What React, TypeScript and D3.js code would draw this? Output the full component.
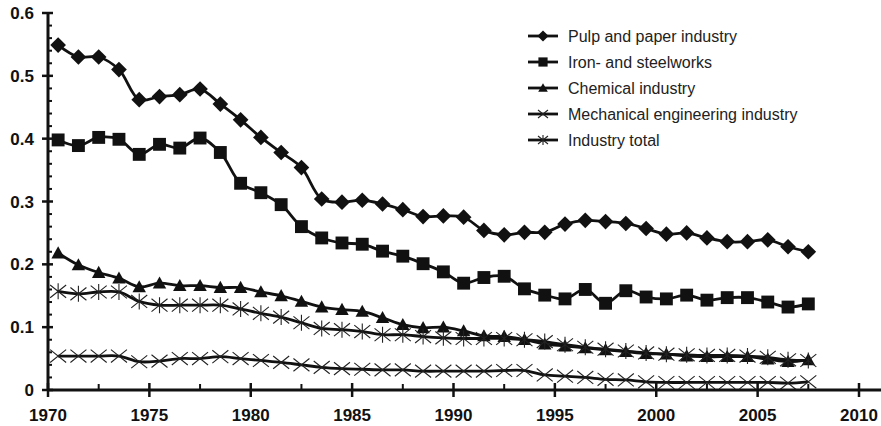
import React from "react";
import * as d3 from "d3";

const years: number[] = d3.range(1970, 2008);

const pulpPaper: number[] = [
  0.549, 0.53, 0.53, 0.51, 0.462, 0.467, 0.47, 0.479, 0.455, 0.43,
  0.402, 0.378, 0.354, 0.304, 0.299, 0.302, 0.296, 0.287, 0.276, 0.277,
  0.275, 0.254, 0.247, 0.251, 0.251, 0.264, 0.27, 0.268, 0.265, 0.257,
  0.248, 0.25, 0.242, 0.236, 0.236, 0.239, 0.228, 0.22,
];
const ironSteel: number[] = [
  0.398, 0.389, 0.402, 0.399, 0.375, 0.391, 0.385, 0.401, 0.378, 0.329,
  0.314, 0.295, 0.26, 0.242, 0.234, 0.232, 0.221, 0.213, 0.201, 0.188,
  0.17, 0.179, 0.181, 0.161, 0.151, 0.145, 0.16, 0.138, 0.158, 0.148,
  0.145, 0.151, 0.143, 0.147, 0.147, 0.14, 0.132, 0.137,
];
const chemical: number[] = [
  0.218, 0.199, 0.187, 0.178, 0.164, 0.17, 0.166, 0.166, 0.163, 0.163,
  0.156, 0.15, 0.141, 0.132, 0.128, 0.125, 0.115, 0.104, 0.099, 0.1,
  0.094, 0.086, 0.085, 0.08, 0.073, 0.07, 0.067, 0.064, 0.061, 0.058,
  0.057, 0.054, 0.053, 0.053, 0.053, 0.049, 0.045, 0.048,
];
const mechanical: number[] = [
  0.054, 0.054, 0.054, 0.054, 0.045, 0.046, 0.05, 0.05, 0.053, 0.05,
  0.047, 0.044, 0.04, 0.036, 0.034, 0.033, 0.032, 0.032, 0.03, 0.03,
  0.03, 0.03, 0.031, 0.031, 0.024, 0.022, 0.02, 0.017, 0.016, 0.013,
  0.012, 0.012, 0.012, 0.012, 0.012, 0.012, 0.011, 0.013,
];
const industryTotal: number[] = [
  0.157, 0.153, 0.156, 0.156, 0.141, 0.135, 0.135, 0.135, 0.135, 0.129,
  0.122, 0.116, 0.107, 0.098, 0.096, 0.093, 0.088, 0.088, 0.085, 0.083,
  0.082, 0.082, 0.082, 0.08, 0.077, 0.072, 0.068, 0.065, 0.062, 0.059,
  0.057, 0.056, 0.055, 0.055, 0.054, 0.052, 0.048, 0.047,
];

const seriesNames: string[] = [
  "Pulp and paper industry",
  "Iron- and steelworks",
  "Chemical industry",
  "Mechanical engineering industry",
  "Industry total",
];
const markerTypes: string[] = ["diamond", "square", "triangle", "x", "asterisk"];
const seriesValues: number[][] = [pulpPaper, ironSteel, chemical, mechanical, industryTotal];

const xTicks: number[] = [1970, 1975, 1980, 1985, 1990, 1995, 2000, 2005, 2010];
const yTicks: number[] = [0, 0.1, 0.2, 0.3, 0.4, 0.5, 0.6];

const W = 881;
const H = 426;
const x = d3.scaleLinear().domain([1970, 2010]).range([48, 859]);
const y = d3.scaleLinear().domain([0, 0.6]).range([390, 13]);
const INK = "#111";

function Marker({ type, cx, cy, s }: { type: string; cx: number; cy: number; s: number }) {
  if (type === "diamond") {
    const r = s * 0.56;
    return <path d={`M${cx},${cy - r}L${cx + r},${cy}L${cx},${cy + r}L${cx - r},${cy}Z`} fill={INK} />;
  }
  if (type === "square") {
    const r = s * 0.46;
    return <rect x={cx - r} y={cy - r} width={2 * r} height={2 * r} fill={INK} />;
  }
  if (type === "triangle") {
    const r = s * 0.48;
    return <path d={`M${cx},${cy - r}L${cx + r},${cy + r * 0.8}L${cx - r},${cy + r * 0.8}Z`} fill={INK} />;
  }
  if (type === "x") {
    const r = s * 0.5;
    return (
      <path
        d={`M${cx - r},${cy - r * 0.8}L${cx + r},${cy + r * 0.8}M${cx - r},${cy + r * 0.8}L${cx + r},${cy - r * 0.8}`}
        stroke="#222"
        strokeWidth={1.1}
      />
    );
  }
  const r = s * 0.5;
  return (
    <path
      d={`M${cx - r},${cy - r * 0.8}L${cx + r},${cy + r * 0.8}M${cx - r},${cy + r * 0.8}L${cx + r},${cy - r * 0.8}M${cx},${cy - r}L${cx},${cy + r}`}
      stroke="#222"
      strokeWidth={1.1}
    />
  );
}

export default function App() {
  const line = d3
    .line<number>()
    .x((_, i) => x(years[i] + 0.5))
    .y((d) => y(d))
    .curve(d3.curveCatmullRom.alpha(0.5));

  const minorX = d3.range(1970, 2011, 2.5).filter((v) => !xTicks.includes(v));
  const minorY = d3.range(0, 0.601, 0.02).filter((v) => !yTicks.some((t) => Math.abs(t - v) < 1e-6));

  const legendX = 528;
  const legendY0 = 36;
  const legendDy = 26;

  return (
    <svg width={W} height={H} style={{ display: "block", position: "absolute", left: 0, top: 0, background: "#fff" }}>
      <rect x={0} y={0} width={W} height={H} fill="#fff" />
      {seriesValues.map((vals, si) => (
        <g key={si}>
          <path d={line(vals) || ""} fill="none" stroke={INK} strokeWidth={2.8} />
          {vals.map((v, i) => (
            <Marker key={i} type={markerTypes[si]} cx={x(years[i] + 0.5)} cy={y(v)} s={si < 3 ? 14 : 16} />
          ))}
        </g>
      ))}
      <line x1={x(1970)} x2={x(1970)} y1={y(0.6)} y2={y(0)} stroke={INK} strokeWidth={3} />
      <line x1={x(1970)} x2={W} y1={y(0)} y2={y(0)} stroke={INK} strokeWidth={3} />
      {yTicks.map((t) => (
        <g key={`yt${t}`}>
          <line x1={x(1970) - 6} x2={x(1970) + 5} y1={y(t)} y2={y(t)} stroke={INK} strokeWidth={2.5} />
          <text
            x={34}
            y={y(t)}
            dy="0.36em"
            textAnchor="end"
            fontFamily="Liberation Sans, Arial, sans-serif"
            fontWeight="bold"
            fontSize={17}
            fill={INK}
          >
            {t === 0 ? "0" : d3.format(".1f")(t)}
          </text>
        </g>
      ))}
      {minorY.map((t) => (
        <line key={`ym${t}`} x1={x(1970)} x2={x(1970) + 4} y1={y(t)} y2={y(t)} stroke={INK} strokeWidth={2} />
      ))}
      {xTicks.map((t) => (
        <g key={`xt${t}`}>
          <line x1={x(t)} x2={x(t)} y1={y(0) - 7} y2={y(0) + 7} stroke={INK} strokeWidth={2.5} />
          <text
            x={x(t)}
            y={421}
            textAnchor="middle"
            fontFamily="Liberation Sans, Arial, sans-serif"
            fontWeight="bold"
            fontSize={17}
            fill={INK}
          >
            {t}
          </text>
        </g>
      ))}
      {minorX.map((t) => (
        <line key={`xm${t}`} x1={x(t)} x2={x(t)} y1={y(0) - 6} y2={y(0)} stroke={INK} strokeWidth={2} />
      ))}
      {seriesNames.map((name, si) => {
        const ly = legendY0 + si * legendDy;
        return (
          <g key={name}>
            <line x1={legendX} x2={legendX + 30} y1={ly} y2={ly} stroke={INK} strokeWidth={2.8} />
            <Marker type={markerTypes[si]} cx={legendX + 15} cy={ly} s={10} />
            <text
              x={legendX + 40}
              y={ly}
              dy="0.36em"
              fontFamily="Liberation Sans, Arial, sans-serif"
              fontSize={16}
              fill="#222"
            >
              {name}
            </text>
          </g>
        );
      })}
    </svg>
  );
}
